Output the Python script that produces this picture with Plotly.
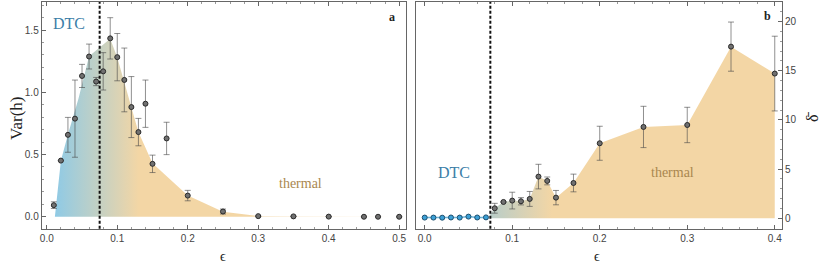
import plotly.graph_objects as go

# ---------------- Panel a data ----------------
eps_a = [0.01, 0.02, 0.03, 0.04, 0.05, 0.06, 0.07, 0.08, 0.09, 0.10, 0.11, 0.12,
         0.13, 0.14, 0.15, 0.17, 0.20, 0.25, 0.30, 0.35, 0.40, 0.45, 0.47, 0.50]
var_h = [0.093, 0.451, 0.658, 0.788, 1.131, 1.287, 1.086, 1.168, 1.433, 1.282, 1.099, 0.881,
         0.680, 0.908, 0.425, 0.629, 0.170, 0.042, 0.005, 0.003, 0.001, 0.0, 0.0, 0.0]
var_err = [0.027, 0.0, 0.14, 0.31, 0.093, 0.10, 0.033, 0.15, 0.166, 0.19, 0.256, 0.245,
           0.11, 0.19, 0.07, 0.13, 0.042, 0.02, 0.0, 0.0, 0.0, 0.0, 0.0, 0.0]
# envelope of the shaded region
env_a_x = [0.0115, 0.02, 0.03, 0.045, 0.06, 0.075, 0.09, 0.10, 0.12, 0.13, 0.15, 0.20, 0.25, 0.30, 0.35, 0.50]
env_a_y = [0.0, 0.45, 0.66, 0.95, 1.29, 1.36, 1.43, 1.28, 0.88, 0.68, 0.43, 0.17, 0.04, 0.005, 0.002, 0.0]

# ---------------- Panel b data ----------------
eps_b_dtc = [0.00, 0.01, 0.02, 0.03, 0.04, 0.05, 0.06, 0.07]
delta_dtc = [0.07, 0.07, 0.06, 0.08, 0.07, 0.17, 0.08, 0.09]
eps_b = [0.08, 0.09, 0.10, 0.11, 0.12, 0.13, 0.14, 0.15, 0.17, 0.20, 0.25, 0.30, 0.35, 0.40]
delta = [1.02, 1.66, 1.80, 1.73, 1.97, 4.24, 3.80, 2.10, 3.59, 7.63, 9.29, 9.49, 17.46, 14.72]
delta_err = [0.5, 0.0, 0.85, 0.37, 0.76, 1.25, 0.4, 0.73, 0.9, 1.73, 2.1, 1.8, 2.5, 3.8]
env_b_x = [0.075, 0.08, 0.09, 0.10, 0.11, 0.12, 0.13, 0.14, 0.15, 0.17, 0.20, 0.25, 0.30, 0.35, 0.40]
env_b_y = [0.4, 1.02, 1.66, 1.80, 1.73, 1.97, 4.24, 3.80, 2.10, 3.59, 7.63, 9.29, 9.49, 17.46, 14.72]

eps_c = 0.075

BLUE = "rgb(142,202,230)"
ORANGE = "rgb(243,214,165)"
ERRC = "rgba(70,70,70,0.6)"
AXC = "#666666"
TICKF = dict(family="Liberation Sans", size=10, color="#444444")
SERIF = "Liberation Serif"

fig = go.Figure()

# Panel a fill
fig.add_trace(go.Scatter(
    x=env_a_x, y=env_a_y, mode="lines", line=dict(width=0), fill="tozeroy",
    fillgradient=dict(type="horizontal", colorscale=[[0, BLUE], [1, ORANGE]], start=0.01, stop=0.13),
    xaxis="x", yaxis="y", hoverinfo="skip", showlegend=False))
fig.add_trace(go.Scatter(
    x=eps_a, y=var_h, mode="markers",
    marker=dict(size=5, color="#707070", line=dict(color="#2a2a2a", width=1)),
    error_y=dict(type="data", array=var_err, color=ERRC, thickness=1, width=3),
    xaxis="x", yaxis="y", showlegend=False))

# Panel b fill
fig.add_trace(go.Scatter(
    x=env_b_x, y=env_b_y, mode="lines", line=dict(width=0), fill="tozeroy",
    fillgradient=dict(type="horizontal", colorscale=[[0, "rgb(185,205,200)"], [1, ORANGE]], start=0.075, stop=0.145),
    xaxis="x2", yaxis="y2", hoverinfo="skip", showlegend=False))
fig.add_trace(go.Scatter(
    x=eps_b_dtc, y=delta_dtc, mode="lines+markers",
    line=dict(color="rgb(110,180,215)", width=1.5),
    marker=dict(size=5, color="rgb(60,160,215)", line=dict(color="#1d4f6e", width=1)),
    xaxis="x2", yaxis="y2", showlegend=False))
fig.add_trace(go.Scatter(
    x=eps_b, y=delta, mode="markers",
    marker=dict(size=5, color="#707070", line=dict(color="#2a2a2a", width=1)),
    error_y=dict(type="data", array=delta_err, color=ERRC, thickness=1, width=3),
    xaxis="x2", yaxis="y2", showlegend=False))

W, H = 822, 266
dom_ax = [40 / W, 405 / W]
dom_bx = [416 / W, 782.7 / W]
dom_y = [(H - 228.7) / H, (H - 2) / H]

common = dict(showline=True, linecolor=AXC, linewidth=1.3, ticks="inside", ticklen=4,
              tickcolor=AXC, tickfont=TICKF, showgrid=False, zeroline=False,
              minor=dict(ticks="inside", ticklen=2, tickcolor="#999999"))

fig.update_layout(
    width=W, height=H, margin=dict(l=0, r=0, t=0, b=0),
    paper_bgcolor="white", plot_bgcolor="white",
    xaxis=dict(domain=dom_ax, anchor="y", range=[-0.007, 0.509], tickvals=[0, 0.1, 0.2, 0.3, 0.4, 0.5],
               ticktext=["0.0", "0.1", "0.2", "0.3", "0.4", "0.5"], mirror="ticks",
               minor_dtick=0.02, **common),
    yaxis=dict(domain=dom_y, anchor="x", range=[-0.096, 1.725], tickvals=[0, 0.5, 1.0, 1.5],
               ticktext=["0.0", "0.5", "1.0", "1.5"], mirror=True, minor_dtick=0.1, **common),
    xaxis2=dict(domain=dom_bx, anchor="y2", range=[-0.0094, 0.4081], tickvals=[0, 0.1, 0.2, 0.3, 0.4],
                ticktext=["0.0", "0.1", "0.2", "0.3", "0.4"], mirror="ticks", minor_dtick=0.02, **common),
    yaxis2=dict(domain=dom_y, anchor="x2", side="right", range=[-1.06, 22.0], tickvals=[0, 5, 10, 15, 20],
                mirror=True, minor_dtick=1, **common),
)

fig.add_shape(type="line", xref="x", yref="y domain", x0=eps_c, x1=eps_c, y0=0, y1=1,
              line=dict(color="#111111", width=2, dash="3px,2px"))
fig.add_shape(type="line", xref="x2", yref="y2 domain", x0=eps_c, x1=eps_c, y0=0, y1=1,
              line=dict(color="#111111", width=2, dash="3px,2px"))

ann = [
    dict(x=0.031, y=1.55, xref="x", yref="y", text="DTC", font=dict(family=SERIF, size=16, color="#3b7ea7")),
    dict(x=0.36, y=0.27, xref="x", yref="y", text="thermal", font=dict(family=SERIF, size=14, color="#a9874f")),
    dict(x=0.033, y=4.7, xref="x2", yref="y2", text="DTC", font=dict(family=SERIF, size=16, color="#3b7ea7")),
    dict(x=0.283, y=4.7, xref="x2", yref="y2", text="thermal", font=dict(family=SERIF, size=14, color="#a9874f")),
    dict(x=391.7 / W, y=1 - 16.7 / H, xref="paper", yref="paper", text="<b>a</b>",
         font=dict(family=SERIF, size=12, color="#222")),
    dict(x=768 / W, y=1 - 15.7 / H, xref="paper", yref="paper", text="<b>b</b>",
         font=dict(family=SERIF, size=12, color="#222")),
    dict(x=15 / W, y=1 - 118 / H, xref="paper", yref="paper", text="Var(h)", textangle=-90,
         font=dict(family=SERIF, size=17, color="#222")),
    dict(x=813 / W, y=1 - 117 / H, xref="paper", yref="paper", text="δ̄", textangle=-90,
         font=dict(family=SERIF, size=16, color="#222")),
    dict(x=222 / W, y=1 - 256 / H, xref="paper", yref="paper", text="ϵ",
         font=dict(family=SERIF, size=14, color="#222")),
    dict(x=597 / W, y=1 - 256 / H, xref="paper", yref="paper", text="ϵ",
         font=dict(family=SERIF, size=14, color="#222")),
]
for a in ann:
    fig.add_annotation(showarrow=False, xanchor="center", yanchor="middle", **a)

fig.write_html("out.html", config={"displayModeBar": False},
               post_script="document.body.style.margin='0';document.body.style.padding='0';")
